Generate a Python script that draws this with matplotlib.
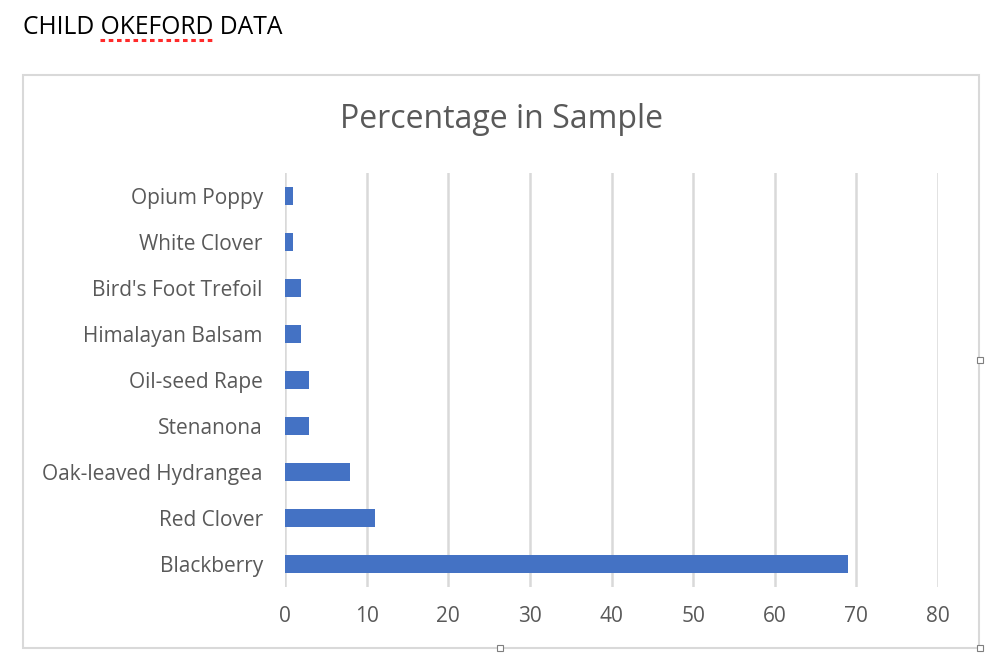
import matplotlib
matplotlib.use("Agg")
import matplotlib.pyplot as plt
from matplotlib.patches import Rectangle
from matplotlib.lines import Line2D

# data (top of chart first)
plants = ["Opium Poppy", "White Clover", "Bird's Foot Trefoil", "Himalayan Balsam",
          "Oil-seed Rape", "Stenanona", "Oak-leaved Hydrangea", "Red Clover", "Blackberry"]
percent = [1, 1, 2, 2, 3, 3, 8, 11, 69]
x_ticks = [0, 10, 20, 30, 40, 50, 60, 70, 80]

BAR_COLOR = "#4472c4"
GRID_COLOR = "#d9d9d9"
TEXT_COLOR = "#595959"
FONT = ["Open Sans", "DejaVu Sans"]

fig = plt.figure(figsize=(10, 6.69), dpi=100)
W, H = 1000, 669

def fx(px):
    return px / W

def fy(py):
    return 1 - py / H

# page heading with spell-check squiggle
fig.text(fx(23), fy(28), "CHILD OKEFORD DATA", fontsize=17.7, family=FONT,
         color="black", va="center", ha="left")
fig.add_artist(Line2D([fx(100), fx(213)], [fy(40), fy(40)], color="#ff2a2a",
                      lw=2.2, ls=(0, (1.5, 1.2)), transform=fig.transFigure))

# chart frame
fig.add_artist(Rectangle((fx(23), fy(648)), fx(979) - fx(23), fy(75) - fy(648),
                         transform=fig.transFigure, fill=False,
                         edgecolor=GRID_COLOR, lw=1.5))
for hx, hy in [(980, 360), (500, 648), (980, 648)]:
    fig.add_artist(Rectangle((fx(hx - 3), fy(hy + 3)), 6 / W, 6 / H,
                             transform=fig.transFigure, facecolor="white",
                             edgecolor="#7f7f7f", lw=0.8, zorder=5))

fig.text(fx(501), fy(120), "Percentage in Sample", fontsize=23, family=FONT,
         color=TEXT_COLOR, ha="center", va="center")

ax = fig.add_axes([fx(285), fy(587), fx(938) - fx(285), fy(173) - fy(587)])
ypos = list(range(len(plants)))[::-1]
ax.barh(ypos, percent, height=0.41, color=BAR_COLOR, zorder=3)

ax.set_xlim(0, 80)
ax.set_ylim(-0.5, len(plants) - 0.5)
ax.set_xticks(x_ticks)
ax.set_xticklabels([str(t) for t in x_ticks], fontsize=15, family=FONT, color=TEXT_COLOR)
ax.set_yticks(ypos)
ax.set_yticklabels(plants, fontsize=15, family=FONT, color=TEXT_COLOR)
ax.tick_params(axis="both", length=0)
ax.tick_params(axis="x", pad=14)
ax.tick_params(axis="y", pad=16)
ax.grid(axis="x", color=GRID_COLOR, lw=1.8, zorder=0)
for s in ax.spines.values():
    s.set_visible(False)

fig.savefig("out.png", dpi=100)
